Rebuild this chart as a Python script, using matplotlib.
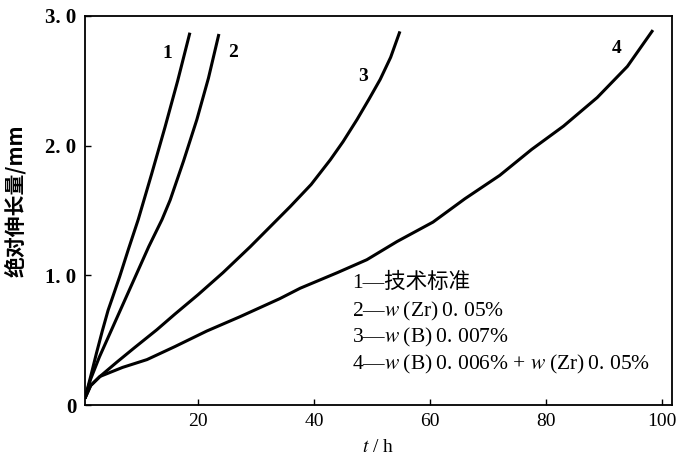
import matplotlib
matplotlib.use("Agg")
import matplotlib.pyplot as plt

plt.rcParams['font.family'] = ['Liberation Serif', 'Noto Sans CJK SC', 'DejaVu Sans']
plt.rcParams['mathtext.fontset'] = 'stix'

# Data
t1 = [0.5, 1.5, 2.5, 3.5, 4.5, 5.2, 6.5, 8, 9.7, 12, 14.3, 16.5, 18.6]
e1 = [0.05, 0.22, 0.40, 0.57, 0.73, 0.82, 0.99, 1.20, 1.43, 1.78, 2.14, 2.50, 2.87]

t2 = [0.5, 1.5, 3, 5.3, 7.5, 9.5, 11.5, 13.8, 15.2, 17.5, 19.8, 21.8, 23.6]
e2 = [0.05, 0.20, 0.37, 0.60, 0.82, 1.02, 1.22, 1.43, 1.58, 1.88, 2.20, 2.52, 2.86]

t3 = [0.5, 1.5, 3.1, 6, 9, 12.9, 16, 20, 24.3, 29, 35.9, 39.5, 42.8, 45, 47.4, 49.5,
      51.4, 53.2, 54.8]
e3 = [0.05, 0.15, 0.22, 0.33, 0.44, 0.58, 0.70, 0.85, 1.02, 1.22, 1.53, 1.70, 1.89, 2.03,
      2.20, 2.36, 2.51, 2.68, 2.88]

t4 = [0.5, 1.5, 3.1, 7, 11.2, 16, 21.5, 27.2, 34.1, 37.6, 44, 49.1, 54.3, 60.5, 66,
      72, 77.5, 83, 88.8, 94, 98.4]
e4 = [0.05, 0.15, 0.22, 0.29, 0.35, 0.45, 0.57, 0.68, 0.82, 0.90, 1.02, 1.12, 1.26, 1.41, 1.59,
      1.77, 1.97, 2.15, 2.37, 2.61, 2.89]

curve_labels = ['1', '2', '3', '4']
label_pos = [(14.7, 2.71), (26.0, 2.72), (48.4, 2.53), (92.2, 2.75)]

legend_lines = ['1—技术标准',
                '2—$w$\u2009(Zr)\u20090. 05%',
                '3—$w$\u2009(B)\u20090. 007%',
                '4—$w$\u2009(B)\u20090. 006% + $w$\u2009(Zr)\u20090. 05%']
legend_y = [0.94, 0.72, 0.52, 0.31]

xticks = [20, 40, 60, 80, 100]
xticklabels = ['20', '40', '60', '80', '100']
yticks = [0, 1, 2, 3]
yticklabels = ['0', '1. 0', '2. 0', '3. 0']

fig = plt.figure(figsize=(6.9, 4.65), dpi=100)
ax = fig.add_axes([0.123, 0.129, 0.851, 0.837])

for t, e in [(t1, e1), (t2, e2), (t3, e3), (t4, e4)]:
    ax.plot(t, e, color='black', lw=2.2, solid_capstyle='butt', solid_joinstyle='round')

for lab, (x, y) in zip(curve_labels, label_pos):
    ax.text(x, y, lab, fontsize=14, ha='center', va='center', fontweight='bold')

for txt, y in zip(legend_lines, legend_y):
    ax.text(46.6, y, txt, fontsize=15.5, ha='left', va='center')

ax.set_xlim(0.5, 101.7)
ax.set_ylim(0, 3.0)
ax.set_xticks(xticks)
ax.set_xticklabels(xticklabels, fontsize=14)
ax.set_yticks(yticks)
ax.set_yticklabels(yticklabels, fontsize=15, fontweight='bold')
ax.tick_params(direction='in', length=4, width=1.0, pad=6)

for s in ax.spines.values():
    s.set_linewidth(1.3)

ax.set_xlabel('$t$ / h', fontsize=14, labelpad=6)
ax.set_ylabel('绝对伸长量/mm', fontsize=15, family=['Noto Sans CJK SC', 'DejaVu Sans'],
              fontweight='bold')
ax.yaxis.set_label_coords(-0.100, 0.524)

fig.savefig('out.png', dpi=100)
